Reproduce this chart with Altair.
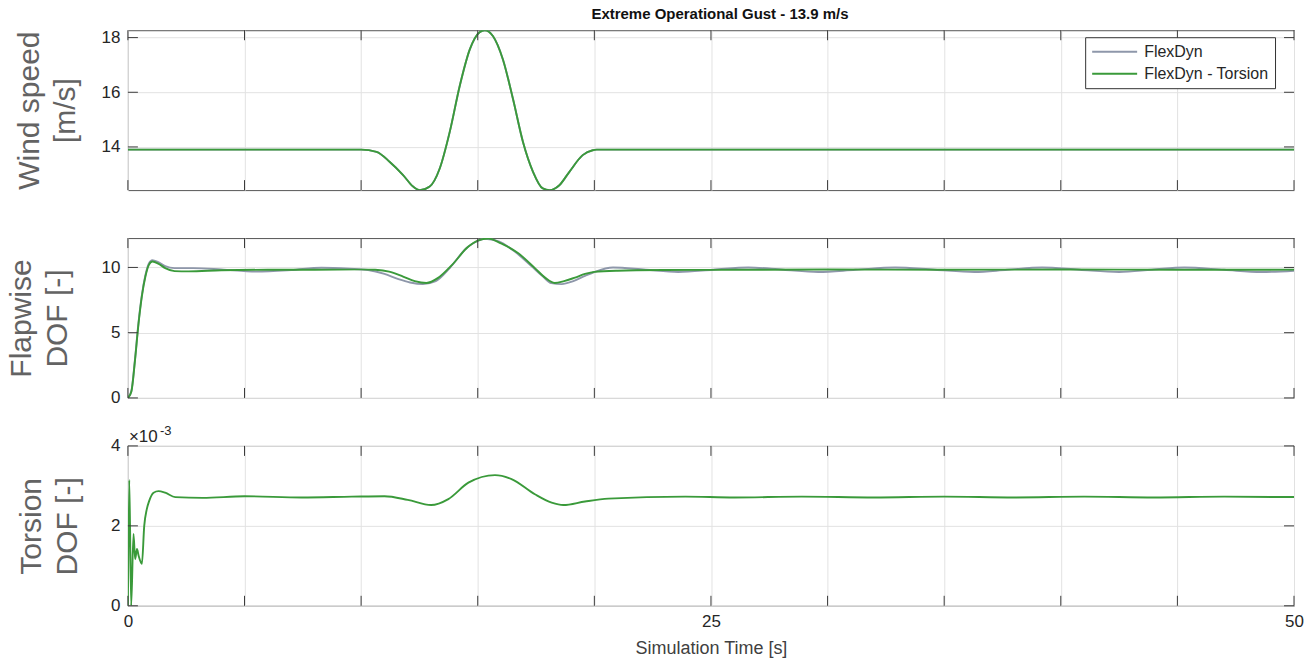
import altair as alt
import pandas as pd

# ---------------- data ----------------
series_names = ["FlexDyn", "FlexDyn - Torsion"]
chart_title = "Extreme Operational Gust - 13.9 m/s"
x_title = "Simulation Time [s]"
y_titles = [["Wind speed", "[m/s]"], ["Flapwise", "DOF [-]"], ["Torsion", "DOF [-]"]]
exp_base = ["×10"]
exp_power = ["-3"]

x_ticks = [0, 5, 10, 15, 20, 25, 30, 35, 40, 45, 50]
wind_ticks = [14, 16, 18]
flap_ticks = [0, 5, 10]
tors_ticks = [0, 2, 4]

# Wind speed (both models identical)
t_wind = [0, 10.0, 10.66, 11.23, 11.8, 12.23, 12.52, 12.94, 13.37, 13.8, 14.23, 14.66,
          15.08, 15.3, 15.65, 16.08, 16.51, 16.94, 17.37, 17.79, 18.08, 18.5, 18.93,
          19.5, 19.93, 20.1, 50]
wind = [13.9, 13.9, 13.82, 13.45, 12.97, 12.55, 12.42, 12.55, 13.21, 14.55, 16.24, 17.57,
        18.2, 18.27, 18.06, 17.2, 15.76, 14.18, 13.09, 12.48, 12.42, 12.6, 13.09,
        13.7, 13.88, 13.9, 13.9]

# Flapwise DOF - FlexDyn
t_flap_fd = [0, 0.15, 0.3, 0.45, 0.6, 0.75, 0.9, 1.05, 1.3, 1.6, 2.0, 2.8, 4.0, 5.5, 7.0,
             8.3, 9.5, 10.3, 11.0, 11.6, 12.1, 12.65, 13.2, 13.8, 14.5, 14.9, 15.3, 15.9,
             16.6, 17.3, 17.8, 18.15, 18.6, 19.1, 19.6, 20.0, 20.8, 22.2, 23.6, 25.1, 26.6,
             28.1, 29.6, 31.2, 32.9, 34.6, 36.3, 37.7, 39.2, 40.8, 42.5, 43.9, 45.3, 47.0,
             48.6, 50]
flap_fd = [0, 0.55, 2.9, 5.7, 7.9, 9.4, 10.3, 10.55, 10.4, 10.1, 9.95, 9.95, 9.85, 9.68, 9.8,
           9.98, 9.9, 9.8, 9.5, 9.1, 8.85, 8.73, 8.95, 9.95, 11.45, 11.95, 12.2, 12.0,
           11.2, 10.1, 9.3, 8.8, 8.72, 8.95, 9.35, 9.65, 10.0, 9.82, 9.65, 9.82, 10.0,
           9.82, 9.65, 9.82, 10.0, 9.82, 9.65, 9.82, 10.0, 9.82, 9.65, 9.82, 10.0, 9.82,
           9.65, 9.75]

# Flapwise DOF - FlexDyn - Torsion
t_flap_tor = [0, 0.15, 0.3, 0.45, 0.6, 0.75, 0.9, 1.05, 1.3, 1.6, 2.0, 2.6, 4, 6, 8, 10,
              10.6, 11.2, 11.8, 12.3, 12.8, 13.3, 13.9, 14.6, 15.0, 15.45, 16.0, 16.74,
              17.45, 17.9, 18.3, 18.7, 19.17, 19.6, 20.0, 21, 23, 26, 30, 35, 40, 45, 50]
flap_tor = [0, 0.5, 2.8, 5.6, 7.8, 9.3, 10.2, 10.45, 10.3, 9.95, 9.72, 9.7, 9.78, 9.82, 9.82,
            9.85, 9.82, 9.68, 9.3, 8.95, 8.81, 9.2, 10.2, 11.6, 12.05, 12.22, 11.84, 11.08,
            9.95, 9.2, 8.81, 8.95, 9.22, 9.5, 9.66, 9.75, 9.8, 9.82, 9.84, 9.82, 9.84, 9.82,
            9.83]

# Torsion DOF (x 1e-3) - FlexDyn - Torsion
t_tors = [0, 0.06, 0.14, 0.24, 0.31, 0.39, 0.46, 0.6, 0.7, 0.81, 0.91, 1.1, 1.31, 1.6, 2.03,
          3.2, 5.0, 7.45, 9.6, 11.0, 12.0, 13.0, 13.74, 14.6, 15.74, 16.45, 17.45, 18.17,
          18.67, 19.6, 20.6, 23.9, 26, 28.9, 32, 35, 38, 41, 44, 47, 50]
tors = [0, 3.15, 0, 1.8, 1.17, 1.42, 1.25, 1.05, 2.0, 2.42, 2.62, 2.83, 2.87, 2.83, 2.72,
        2.7, 2.74, 2.71, 2.73, 2.74, 2.65, 2.52, 2.67, 3.08, 3.27, 3.17, 2.79, 2.58,
        2.52, 2.61, 2.68, 2.73, 2.71, 2.73, 2.71, 2.73, 2.71, 2.73, 2.71, 2.73, 2.72]

# ---------------- styling ----------------
W, H = 1167, 160
GREEN = "#3a9a3a"
GRAY = "#8e97aa"
BOX = "#555555"
GRID = "#e2e2e2"
TICKC = "#3a3a3a"
FONT = "Liberation Sans"
TICKLEN = 10

color_scale = alt.Scale(domain=series_names, range=[GRAY, GREEN])


def df(t, v, name):
    return pd.DataFrame({"t": t, "v": v, "series": name})


def x_enc(bottom):
    if bottom:
        axis = alt.Axis(values=x_ticks, labelExpr="datum.value % 25 == 0 ? datum.label : ''",
                        title=x_title, grid=True, gridColor=GRID, domain=False, ticks=False,
                        labelFontSize=17, labelColor="#262626", labelPadding=8,
                        labelFlush=False,
                        titleFontSize=18, titleFontWeight="normal", titleColor="#404040",
                        titlePadding=10)
    else:
        axis = alt.Axis(values=x_ticks, labels=False, title=None, grid=True, gridColor=GRID,
                        domain=False, ticks=False)
    return alt.X("t:Q", scale=alt.Scale(domain=[0, 50], nice=False, zero=False), axis=axis)


def y_enc(domain, ticks, title, title_x):
    axis = alt.Axis(values=ticks, title=title, grid=True, gridColor=GRID, domain=False,
                    ticks=False, labelFontSize=17, labelColor="#262626", labelPadding=8,
                    titleFontSize=30, titleFontWeight="normal", titleColor="#636363",
                    titleLineHeight=36, titleX=title_x)
    return alt.Y("v:Q", scale=alt.Scale(domain=domain, nice=False, zero=False), axis=axis)


def panel(series_dfs, domain, ticks, title, title_x, bottom, legend):
    xe = x_enc(bottom)
    ye = y_enc(domain, ticks, title, title_x)
    if legend:
        leg = alt.Legend(title=None, orient="none", legendX=958, legendY=7,
                         symbolType="M-3,0H3", symbolSize=225, symbolStrokeWidth=2,
                         symbolOffset=15, labelOffset=21,
                         labelFontSize=16, labelColor="#262626", labelFont=FONT,
                         strokeColor="#333333", fillColor="white", padding=6,
                         rowPadding=5)
    else:
        leg = None
    layers = []
    for d in series_dfs:
        layers.append(
            alt.Chart(d).mark_line(strokeWidth=1.9, interpolate="monotone", clip=True).encode(
                x=xe, y=ye,
                color=alt.Color("series:N", scale=color_scale, legend=leg)))
    xt = pd.DataFrame({"t": x_ticks})
    yt = pd.DataFrame({"v": ticks})
    layers.append(alt.Chart(xt).mark_rule(color=TICKC, strokeWidth=1).encode(
        x=xe, y=alt.value(0), y2=alt.value(TICKLEN)))
    layers.append(alt.Chart(xt).mark_rule(color=TICKC, strokeWidth=1).encode(
        x=xe, y=alt.value(H - TICKLEN), y2=alt.value(H)))
    layers.append(alt.Chart(yt).mark_rule(color=TICKC, strokeWidth=1).encode(
        y=ye, x=alt.value(0), x2=alt.value(TICKLEN)))
    layers.append(alt.Chart(yt).mark_rule(color=TICKC, strokeWidth=1).encode(
        y=ye, x=alt.value(W - TICKLEN), x2=alt.value(W)))
    return layers


p1_layers = panel([df(t_wind, wind, series_names[0]), df(t_wind, wind, series_names[1])],
                  [12.42, 18.27], wind_ticks, y_titles[0], -83, False, True)
p1 = alt.layer(*p1_layers).properties(
    width=W, height=H,
    title=alt.TitleParams(chart_title, fontSize=15, fontWeight="bold", color="#111111",
                          anchor="middle", offset=7, dx=9, font=FONT))

p2_layers = panel([df(t_flap_fd, flap_fd, series_names[0]),
                   df(t_flap_tor, flap_tor, series_names[1])],
                  [0, 12.25], flap_ticks, y_titles[1], -91, False, False)
p2 = alt.layer(*p2_layers).properties(width=W, height=H)

p3_layers = panel([df(t_tors, tors, series_names[1])],
                  [0, 4], tors_ticks, y_titles[2], -81, True, False)
one = pd.DataFrame({"k": [0]})
p3_layers.append(alt.Chart(one).mark_text(align="left", baseline="alphabetic", fontSize=17,
                                          color="#262626", font=FONT).encode(
    x=alt.value(1), y=alt.value(-4), text=alt.value(exp_base[0])))
p3_layers.append(alt.Chart(one).mark_text(align="left", baseline="alphabetic", fontSize=13,
                                          color="#262626", font=FONT).encode(
    x=alt.value(32), y=alt.value(-11), text=alt.value(exp_power[0])))
p3 = alt.layer(*p3_layers).properties(width=W, height=H)

chart = alt.vconcat(p1, p2, p3, spacing=48, bounds="flush").resolve_legend(
    color="independent"
).properties(
    padding={"left": 6, "top": 5, "right": 5, "bottom": 4}
).configure(font=FONT).configure_view(stroke=BOX, strokeWidth=1)

chart.save("out.html", embed_options={"renderer": "svg", "actions": False})
